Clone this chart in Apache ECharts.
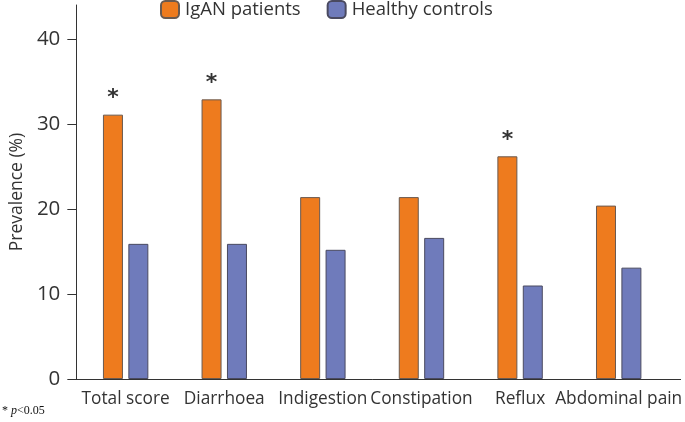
<!DOCTYPE html>
<html>
<head>
<meta charset="utf-8">
<script src="https://cdn.jsdelivr.net/npm/echarts@6/dist/echarts.min.js"></script>
<style>html,body{margin:0;padding:0;background:#fff;}#c{width:685px;height:422px;}</style>
</head>
<body>
<div id="c"></div>
<script>
const categories = ['Total score', 'Diarrhoea', 'Indigestion', 'Constipation', 'Reflux', 'Abdominal pain'];
const igan = [31.1, 32.9, 21.4, 21.4, 26.2, 20.4];
const controls = [15.9, 15.9, 15.2, 16.6, 11.0, 13.1];
const significant = [true, true, false, false, true, false];
const yTicks = [0, 10, 20, 30, 40];

const FONT = 'Open Sans';
const chart = echarts.init(document.getElementById('c'));
chart.setOption({
  animation: false,
  grid: { left: 68, right: 17, top: 5, bottom: 43 },
  legend: {
    top: 0, left: 160, padding: 0,
    itemWidth: 18, itemHeight: 17, itemGap: 26,
    textStyle: { fontFamily: FONT, fontSize: 18.5, color: '#333', padding: [0, 0, 0, 1] },
    data: ['IgAN patients', 'Healthy controls']
  },
  xAxis: {
    type: 'category', data: categories,
    axisLine: { lineStyle: { color: '#333', width: 1 } },
    axisTick: { show: false },
    axisLabel: { interval: 0, fontFamily: FONT, fontSize: 17.3, color: '#333', margin: 12 }
  },
  yAxis: {
    type: 'value', min: 0, max: 44, interval: 10,
    name: 'Prevalence (%)', nameLocation: 'middle', nameGap: 49,
    nameTextStyle: { fontFamily: FONT, fontSize: 17.5, color: '#333' },
    splitLine: { show: false },
    axisLine: { show: true, lineStyle: { color: '#333', width: 1 } },
    axisTick: { show: true, length: 9, customValues: yTicks, lineStyle: { color: '#333' } },
    axisLabel: { fontFamily: FONT, fontSize: 20.5, color: '#333', margin: 16, customValues: yTicks }
  },
  series: [
    {
      name: 'IgAN patients', type: 'bar', data: igan,
      barWidth: 20, barGap: '27%',
      itemStyle: { color: '#EE7B1E', borderColor: '#6a5a50', borderWidth: 1 },
      label: {
        show: true, position: 'top', distance: 5,
        fontFamily: 'DejaVu Sans', fontSize: 22, fontWeight: 'bold', color: '#333',
        formatter: p => significant[p.dataIndex] ? '*' : ''
      }
    },
    {
      name: 'Healthy controls', type: 'bar', data: controls,
      barWidth: 20,
      itemStyle: { color: '#6F7BBB', borderColor: '#4a4a60', borderWidth: 1 }
    }
  ],
  graphic: [
    { type: 'line', shape: { x1: 668, y1: 379.5, x2: 681, y2: 379.5 }, style: { stroke: '#333', lineWidth: 1 } },
    {
      type: 'text', left: 2, top: 405,
      style: {
        text: '{s|* }{i|p}{s|<0.05}',
        rich: {
          s: { fontFamily: 'Liberation Serif', fontSize: 12, fill: '#111' },
          i: { fontFamily: 'Liberation Serif', fontSize: 12, fontStyle: 'italic', fill: '#111' }
        }
      }
    }
  ]
});
</script>
</body>
</html>
